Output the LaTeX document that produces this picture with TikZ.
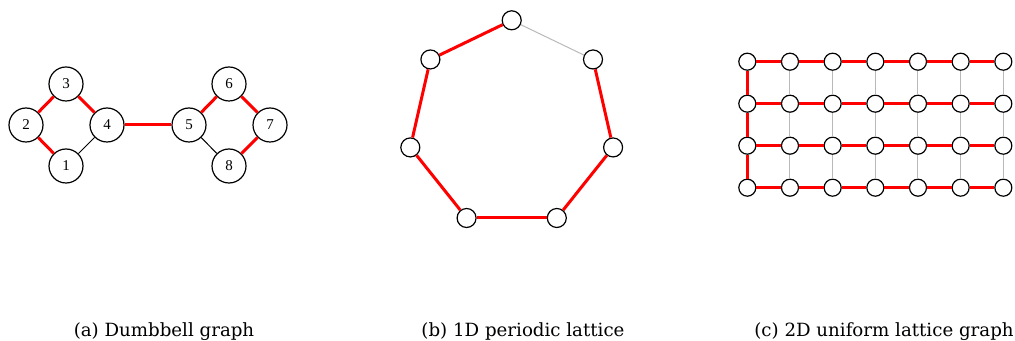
\documentclass[tikz,border=0pt]{standalone}
\usepackage{fontspec}
\setmainfont{Liberation Serif}
\newfontfamily\capfont{DejaVu Serif}
\usepackage{xcolor}
\usepackage{tikz}
\usetikzlibrary{positioning}

\begin{document}
\begin{tikzpicture}[
  x=0.5pt,y=-0.5pt,
  big/.style={circle,draw,line width=0.6pt,fill=white,inner sep=0pt,
              minimum size=17pt,font=\fontsize{7.5}{8}\selectfont},
  ring/.style={circle,draw,line width=0.6pt,fill=white,inner sep=0pt,minimum size=9.5pt},
  dot/.style={circle,draw,line width=0.6pt,fill=white,inner sep=0pt,minimum size=8.5pt},
  hot/.style={red,line width=1.5pt},
  cold/.style={black,line width=0.5pt},
  pale/.style={gray!55,line width=0.5pt},
  subcap/.style={anchor=base,inner sep=0pt,font=\capfont\fontsize{9.1}{10}\selectfont}
]
\useasboundingbox (0,0) rectangle (1015,341);
% (a) dumbbell
\node[big] (n1) at (66,166) {1};
\node[big] (n2) at (26,125) {2};
\node[big] (n3) at (66,84)  {3};
\node[big] (n4) at (107,125) {4};
\node[big] (n5) at (189,125) {5};
\node[big] (n6) at (229,84)  {6};
\node[big] (n7) at (270,125) {7};
\node[big] (n8) at (229,166) {8};
\draw[hot] (n2)--(n3);
\draw[hot] (n3)--(n4);
\draw[hot] (n2)--(n1);
\draw[cold] (n1)--(n4);
\draw[hot] (n4)--(n5);
\draw[hot] (n5)--(n6);
\draw[hot] (n6)--(n7);
\draw[hot] (n7)--(n8);
\draw[cold] (n5)--(n8);
\node[subcap] (capa) at (164,336) {(a) Dumbbell graph};
% (b) periodic ring
\foreach \i in {0,...,6}{
  \node[ring] (p\i) at ({511.7+104*cos(90+\i*360/7)},{124.3-104*sin(90+\i*360/7)}) {};
}
\draw[pale] (p0)--(p6);
\foreach \i/\j in {0/1,1/2,2/3,3/4,4/5,5/6}{
  \draw[hot] (p\i)--(p\j);
}
\node[subcap] (capb) at (523,336) {(b) 1D periodic lattice};
% (c) 2D lattice
\foreach \c in {0,...,6}{
  \foreach \r in {0,...,3}{
    \node[dot] (g-\c-\r) at ({747.3+42.67*\c},{61.7+42*\r}) {};
  }
}
\foreach \c in {1,...,6}{
  \foreach \r/\s in {0/1,1/2,2/3}{
    \draw[pale] (g-\c-\r)--(g-\c-\s);
  }
}
\foreach \r/\s in {0/1,1/2,2/3}{
  \draw[hot] (g-0-\r)--(g-0-\s);
}
\foreach \r in {0,...,3}{
  \foreach \c/\d in {0/1,1/2,2/3,3/4,4/5,5/6}{
    \draw[hot] (g-\c-\r)--(g-\d-\r);
  }
}
\node[subcap] (capc) at (884,336) {(c) 2D uniform lattice graph};
\end{tikzpicture}
\end{document}
